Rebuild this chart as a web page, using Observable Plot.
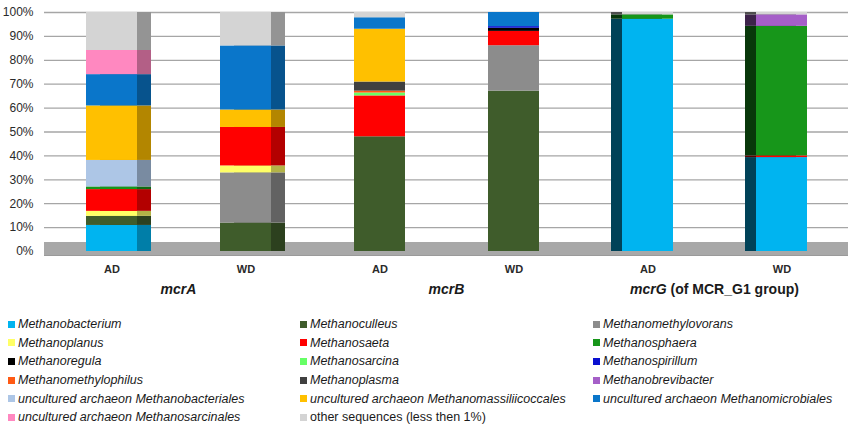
<!DOCTYPE html>
<html><head><meta charset="utf-8">
<script src="https://cdn.jsdelivr.net/npm/d3@7"></script>
<script src="https://cdn.jsdelivr.net/npm/@observablehq/plot@0.6"></script>
<style>
body{margin:0;background:#fff;font-family:"Liberation Sans",Arial,sans-serif;}
#chart svg{display:block}
#legend{display:grid;grid-template-columns:292px 293px 1fr;padding-left:8px;margin-top:7px;}
.item{height:18.6px;font-size:12.5px;font-style:italic;color:#1a1a1a;white-space:nowrap;display:flex;align-items:center}
.item.plain{font-style:normal}
.sw{width:7px;height:7px;margin-right:3px;flex:none}
</style></head><body>
<div id="chart"></div><div id="legend"></div>
<script>
const taxa = [
  "Methanobacterium","Methanoculleus","Methanomethylovorans",
  "Methanoplanus","Methanosaeta","Methanosphaera",
  "Methanoregula","Methanosarcina","Methanospirillum",
  "Methanomethylophilus","Methanoplasma","Methanobrevibacter",
  "uncultured archaeon Methanobacteriales","uncultured archaeon Methanomassiliicoccales","uncultured archaeon Methanomicrobiales",
  "uncultured archaeon Methanosarcinales","other sequences (less then 1%)"
];
const taxonColors = [
  "#00B4F0","#3F5C2B","#8C8C8C",
  "#FFFF66","#FF0000","#17961A",
  "#000000","#66FF66","#0A10D0",
  "#FF5A14","#404040","#A55FC8",
  "#ADC6E6","#FFC000","#0A76CA",
  "#FF88C0","#D4D4D4"
];
const plainTaxa = ["other sequences (less then 1%)"];

const genes = ["mcrA","mcrA","mcrB","mcrB","mcrG","mcrG"];
const samples = ["AD","WD","AD","WD","AD","WD"];
const geneLabels = ["mcrA","mcrB","mcrG"];
const geneNotes = ["","", " (of MCR_G1 group)"];

// percentages per taxon (same order as taxa)
const mcrA_AD = [10.9, 3.8, 0, 2.1, 9.1, 1.1, 0, 0, 0, 0, 0, 0, 11.1, 22.8, 13.1, 10.1, 15.9];
const mcrA_WD = [0, 11.9, 21.0, 2.9, 16.1, 0, 0, 0, 0, 0, 0, 0, 0, 7.3, 26.8, 0, 14.0];
const mcrB_AD = [0, 48.0, 0, 0, 17.1, 0, 0, 1.2, 0, 0.8, 3.8, 0, 0, 22.1, 4.8, 0, 2.2];
const mcrB_WD = [0, 67.1, 19.0, 0, 6.0, 0, 1.3, 0, 0.7, 0, 0, 0, 0, 0, 5.9, 0, 0];
const mcrG_AD = [97.2, 0, 0, 0, 0, 1.8, 0, 0, 0, 0, 0, 0, 0, 0, 0, 0, 1.0];
const mcrG_WD = [39.3, 0, 0, 0, 0.7, 54.2, 0, 0, 0, 0, 0, 4.8, 0, 0, 0, 0, 1.0];
const series = [mcrA_AD, mcrA_WD, mcrB_AD, mcrB_WD, mcrG_AD, mcrG_WD];

const yTicks = [0,10,20,30,40,50,60,70,80,90,100];

const rows = [];
series.forEach((vals, i) => {
  vals.forEach((v, j) => {
    if (v > 0) rows.push({gene: genes[i], sample: samples[i], taxon: taxa[j], value: v,
      color: taxonColors[j],
      sideA: d3.color(taxonColors[j]).darker(1.0).formatHex(),
      sideG: d3.color(taxonColors[j]).darker(2.8).formatHex()});
  });
});

const barOpts = {fx: "gene", x: "sample", y: "value", inset: 0};

const chart = Plot.plot({
  width: 851, height: 308,
  marginLeft: 44, marginRight: 3, marginTop: 12, marginBottom: 57,
  style: {fontFamily: "'Liberation Sans', Arial, sans-serif", color: "#2a2a2a", background: "#fff"},
  fx: {domain: geneLabels, padding: 0, axis: null},
  x: {domain: ["AD","WD"], paddingInner: 0.62, paddingOuter: 0.31},
  y: {domain: [0, 100]},
  marks: [
    Plot.gridY(yTicks, {stroke: "#A6A6A6", strokeOpacity: 1, strokeWidth: 1.3}),
    Plot.ruleY([0], {stroke: "#A8A8A8", strokeWidth: 13, dy: -3}),
    Plot.ruleY([0], {stroke: "#9a9a9a", strokeWidth: 1, dy: 4}),
    Plot.axisY(yTicks, {tickFormat: d => d + "%", tickSize: 0, tickPadding: 11, fontSize: 12, label: null}),
    Plot.axisX({tickSize: 0, tickPadding: 14, fontWeight: "bold", fontSize: 11, label: null}),
    Plot.barY(rows.filter(d => d.gene === "mcrA"), Plot.stackY({...barOpts, fill: "sideA", dx: 14})),
    Plot.barY(rows.filter(d => d.gene === "mcrG"), Plot.stackY({...barOpts, fill: "sideG", dx: -11})),
    Plot.barY(rows, Plot.stackY({...barOpts, fill: "color"})),
    Plot.text(geneLabels, {fx: d => d, text: d => d, frameAnchor: "bottom", dy: 42,
      fontSize: 14, fontWeight: "bold", fill: "#1a1a1a"})
  ]
});

// italic gene name + plain note
d3.select(chart).selectAll('g[aria-label="text"] text').each(function() {
  const t = d3.select(this);
  const name = t.text();
  const k = geneLabels.indexOf(name);
  if (k < 0) return;
  t.text(null);
  t.append("tspan").attr("font-style", "italic").text(name);
  if (geneNotes[k]) t.append("tspan").attr("font-style", "normal").text(geneNotes[k]);
});

document.getElementById("chart").appendChild(chart);

const legend = d3.select("#legend");
taxa.forEach((t, i) => {
  const it = legend.append("div").attr("class", "item" + (plainTaxa.includes(t) ? " plain" : ""));
  it.append("span").attr("class", "sw").style("background", taxonColors[i]);
  it.append("span").text(t);
});
</script>
</body></html>
